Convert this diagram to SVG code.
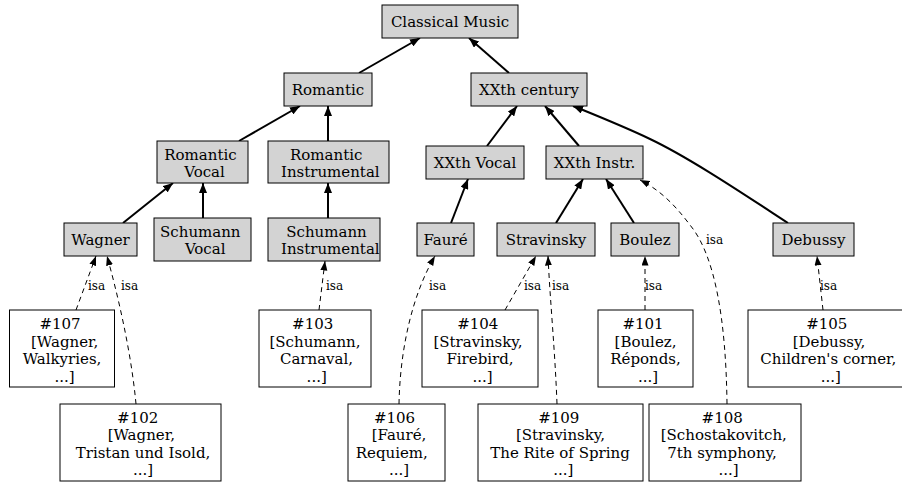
<svg xmlns="http://www.w3.org/2000/svg" width="902" height="484" viewBox="0 0 902 484">
<style>
.n rect{fill:#d3d3d3;stroke:#000;stroke-width:1}
.i rect{fill:#fff;stroke:#000;stroke-width:1}
text{font-family:"DejaVu Serif","Liberation Serif",serif;font-size:15px;fill:#000;text-anchor:middle}
.l{font-size:12px;text-anchor:start}
.s{fill:none;stroke:#000;stroke-width:2;marker-end:url(#as)}
.d{fill:none;stroke:#000;stroke-width:1;stroke-dasharray:5,4;marker-end:url(#ad)}
</style>
<defs>
<marker id="as" markerUnits="userSpaceOnUse" markerWidth="11" markerHeight="8" refX="10" refY="4" orient="auto"><path d="M0,0 L10,4 L0,8 z" fill="#000"/></marker>
<marker id="ad" markerUnits="userSpaceOnUse" markerWidth="10" markerHeight="8" refX="9.5" refY="3.5" orient="auto"><path d="M0,0 L9.5,3.5 L0,7 z" fill="#000"/></marker>
</defs>
<g id="connectors">
<path class="s" d="M359,73 L420,38"/>
<path class="s" d="M509,73 L469,38"/>
<path class="s" d="M239,141 L300,106"/>
<path class="s" d="M328,141 L328,106"/>
<path class="s" d="M487,146 L517,106"/>
<path class="s" d="M579,146 L545,106"/>
<path class="s" d="M788,223 C745,195 690,158 650,139 C625,127 600,117 573,106"/>
<path class="s" d="M123,223 L173,183"/>
<path class="s" d="M203,218 L203,183"/>
<path class="s" d="M328,218 L328,183"/>
<path class="s" d="M451,223 L468,179"/>
<path class="s" d="M556,223 L583,179"/>
<path class="s" d="M634,223 L606,179"/>
<path class="d" d="M76,310 L96,256"/>
<path class="d" d="M136,404 C131,350 117,292 107,256"/>
<path class="d" d="M319,310 L325,261"/>
<path class="d" d="M399,404 C400,350 412,295 435,256"/>
<path class="d" d="M505,310 L536,256"/>
<path class="d" d="M557,404 C555,350 550,300 548,256"/>
<path class="d" d="M645,310 L645,256"/>
<path class="d" d="M727,404 C726,320 715,255 690,225 C675,205 660,190 640,180"/>
<path class="d" d="M823,310 L817,256"/>
<text class="l" x="88" y="290">isa</text>
<text class="l" x="121" y="290">isa</text>
<text class="l" x="326" y="290">isa</text>
<text class="l" x="429" y="290">isa</text>
<text class="l" x="524" y="290">isa</text>
<text class="l" x="552" y="290">isa</text>
<text class="l" x="645" y="290">isa</text>
<text class="l" x="706" y="244">isa</text>
<text class="l" x="820" y="290">isa</text>
</g>
<g id="classical" class="n"><rect x="382" y="5" width="136" height="33"/><text x="450" y="26.5">Classical Music</text></g>
<g id="romantic" class="n"><rect x="284" y="73" width="88" height="33"/><text x="328" y="94.5">Romantic</text></g>
<g id="xxth" class="n"><rect x="471" y="73" width="116" height="33"/><text x="529" y="94.5">XXth century</text></g>
<g id="romvocal" class="n"><rect x="157" y="141" width="91" height="42"/><text x="200.5" y="159.7">Romantic</text><text x="204.5" y="177.2">Vocal</text></g>
<g id="rominstr" class="n"><rect x="268" y="141" width="121" height="42"/><text x="326.2" y="159.7">Romantic</text><text x="330.3" y="177.2">Instrumental</text></g>
<g id="xxvocal" class="n"><rect x="426" y="146" width="98" height="33"/><text x="475" y="167.5">XXth Vocal</text></g>
<g id="xxinstr" class="n"><rect x="546" y="146" width="97" height="33"/><text x="594.5" y="167.5">XXth Instr.</text></g>
<g id="wagner" class="n"><rect x="64" y="223" width="73" height="33"/><text x="100.5" y="244.5">Wagner</text></g>
<g id="schvocal" class="n"><rect x="154" y="218" width="97" height="43"/><text x="200.3" y="236.7">Schumann</text><text x="205.2" y="254.2">Vocal</text></g>
<g id="schinstr" class="n"><rect x="268" y="218" width="112" height="43"/><text x="326.5" y="236.7">Schumann</text><text x="330.3" y="254.2">Instrumental</text></g>
<g id="faure" class="n"><rect x="417" y="223" width="57" height="33"/><text x="445.5" y="244.5">Fauré</text></g>
<g id="stravinsky" class="n"><rect x="497" y="223" width="98" height="33"/><text x="546" y="244.5">Stravinsky</text></g>
<g id="boulez" class="n"><rect x="611" y="223" width="68" height="33"/><text x="645" y="244.5">Boulez</text></g>
<g id="debussy" class="n"><rect x="773" y="223" width="81" height="33"/><text x="813.5" y="244.5">Debussy</text></g>
<g id="i107" class="i"><rect x="9.5" y="310" width="105" height="77"/><text x="60" y="329">#107</text><text x="64.7" y="346.5">[Wagner,</text><text x="62" y="364">Walkyries,</text><text x="64.5" y="381.5">...]</text></g>
<g id="i103" class="i"><rect x="259" y="310" width="112" height="77"/><text x="312.7" y="329">#103</text><text x="315" y="346.5">[Schumann,</text><text x="316.5" y="364">Carnaval,</text><text x="316.7" y="381.5">...]</text></g>
<g id="i104" class="i"><rect x="422" y="310" width="116" height="77"/><text x="477.8" y="329">#104</text><text x="478" y="346.5">[Stravinsky,</text><text x="480" y="364">Firebird,</text><text x="482.5" y="381.5">...]</text></g>
<g id="i101" class="i"><rect x="598" y="310" width="95" height="77"/><text x="643" y="329">#101</text><text x="645.5" y="346.5">[Boulez,</text><text x="645.5" y="364">Réponds,</text><text x="648" y="381.5">...]</text></g>
<g id="i105" class="i"><rect x="748" y="310" width="160" height="77"/><text x="826.8" y="329">#105</text><text x="829" y="346.5">[Debussy,</text><text x="828.3" y="364">Children's corner,</text><text x="830.8" y="381.5">...]</text></g>
<g id="i102" class="i"><rect x="60" y="404" width="161" height="77"/><text x="137.7" y="422.5">#102</text><text x="141.3" y="440">[Wagner,</text><text x="143" y="457.5">Tristan und Isold,</text><text x="143" y="475">...]</text></g>
<g id="i106" class="i"><rect x="348" y="404" width="97" height="77"/><text x="394.5" y="422.5">#106</text><text x="399" y="440">[Fauré,</text><text x="391.8" y="457.5">Requiem,</text><text x="399" y="475">...]</text></g>
<g id="i109" class="i"><rect x="478" y="404" width="165" height="77"/><text x="558.8" y="422.5">#109</text><text x="560.5" y="440">[Stravinsky,</text><text x="560" y="457.5">The Rite of Spring</text><text x="563.3" y="475">...]</text></g>
<g id="i108" class="i"><rect x="649" y="404" width="152" height="77"/><text x="722.2" y="422.5">#108</text><text x="723.8" y="440">[Schostakovitch,</text><text x="722" y="457.5">7th symphony,</text><text x="728.5" y="475">...]</text></g>
</svg>
